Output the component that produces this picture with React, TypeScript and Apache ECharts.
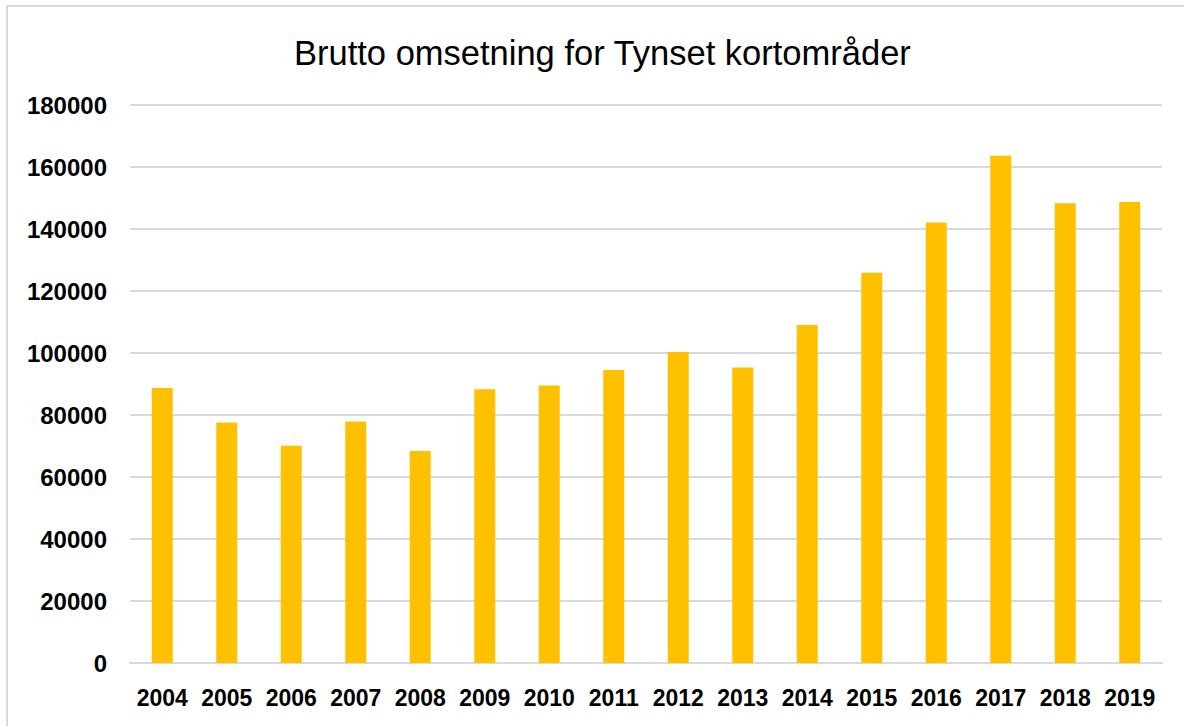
import React, { useEffect, useRef } from "react";
import * as echarts from "echarts";

const TITLE = "Brutto omsetning for Tynset kortområder";
const YEARS = ["2004", "2005", "2006", "2007", "2008", "2009", "2010", "2011", "2012", "2013", "2014", "2015", "2016", "2017", "2018", "2019"];
const VALUES = [88700, 77600, 70100, 77900, 68400, 88300, 89500, 94500, 100300, 95300, 109000, 125900, 142100, 163600, 148300, 148700];
const Y_MIN = 0;
const Y_MAX = 180000;
const Y_STEP = 20000;

export default function App() {
  const ref = useRef<HTMLDivElement>(null);
  useEffect(() => {
    if (!ref.current) return;
    const chart = echarts.init(ref.current, undefined, { renderer: "svg" });
    const font = "'Liberation Sans', Arial, sans-serif";
    chart.setOption({
      animation: false,
      backgroundColor: "#ffffff",
      title: {
        text: TITLE,
        left: 289,
        top: 30,
        textStyle: { fontFamily: font, fontSize: 34.5, fontWeight: "normal", color: "#000000" },
      },
      graphic: [
        {
          type: "rect",
          shape: { x: 7, y: 6, width: 1300, height: 900 },
          style: { fill: "none", stroke: "#d9d9d9", lineWidth: 2 },
          silent: true,
        },
      ],
      grid: { left: 130, right: 22, top: 105, bottom: 63 },
      xAxis: {
        type: "category",
        data: YEARS,
        axisLine: { show: true, lineStyle: { color: "#d9d9d9", width: 2 } },
        axisTick: { show: false },
        axisLabel: { fontFamily: font, fontSize: 23, fontWeight: "bold", color: "#000000", margin: 23, interval: 0 },
      },
      yAxis: {
        type: "value",
        min: Y_MIN,
        max: Y_MAX,
        interval: Y_STEP,
        axisLine: { show: false },
        axisTick: { show: false },
        splitLine: { lineStyle: { color: "#d9d9d9", width: 2 } },
        axisLabel: {
          fontFamily: font,
          fontSize: 24,
          fontWeight: "bold",
          color: "#000000",
          margin: 23,
          formatter: (v: number) => String(v),
        },
      },
      series: [
        {
          type: "bar",
          data: VALUES,
          barWidth: 21,
          itemStyle: { color: "#FFC000" },
        },
      ],
    });
    return () => chart.dispose();
  }, []);
  return <div ref={ref} style={{ position: "fixed", left: 0, top: 0, width: 1184, height: 726 }} />;
}
